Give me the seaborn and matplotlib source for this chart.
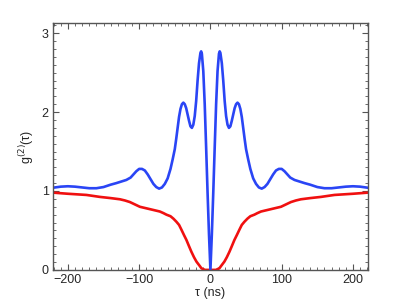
"""Second-order correlation g2(tau) curves, blue and red traces."""

import matplotlib

matplotlib.use("Agg")

import matplotlib.pyplot as plt
import numpy as np
import pandas as pd
import seaborn as sns
from matplotlib.ticker import MultipleLocator


# values for tau >= 0; both curves are symmetric in tau
BLUE_TAU = [0, 2, 4, 6, 8, 10, 12, 13, 14, 16, 18, 20, 22, 24, 26, 28, 30, 32,
            34, 36, 38, 40, 42, 44, 46, 48, 50, 53, 56, 60, 64, 68, 72, 76, 80,
            84, 88, 92, 96, 100, 104, 108, 112, 118, 125, 132, 140, 150, 160,
            170, 180, 190, 200, 210, 222]
BLUE_G2 = [0.0, 0.45, 0.98, 1.55, 2.10, 2.52, 2.74, 2.77, 2.75, 2.62, 2.40,
           2.14, 1.95, 1.84, 1.80, 1.82, 1.89, 1.97, 2.05, 2.10, 2.12, 2.10,
           2.04, 1.94, 1.80, 1.66, 1.53, 1.40, 1.28, 1.16, 1.09, 1.045, 1.03,
           1.05, 1.09, 1.15, 1.21, 1.26, 1.28, 1.28, 1.25, 1.21, 1.17, 1.14,
           1.12, 1.10, 1.08, 1.05, 1.035, 1.035, 1.045, 1.055, 1.06, 1.055,
           1.04]

RED_TAU = [0, 4, 8, 10, 12.6, 15, 19.6, 23, 26.7, 30, 33.7, 37, 40.7, 44,
           47.7, 52, 56, 61.7, 66, 71, 78, 85, 92, 99, 106, 113, 120, 127,
           140, 155, 174, 200, 222]
RED_G2 = [0.0, 0.0, 0.0, 0.01, 0.02, 0.05, 0.105, 0.16, 0.23, 0.30, 0.38,
          0.44, 0.51, 0.57, 0.61, 0.65, 0.68, 0.70, 0.72, 0.74, 0.755, 0.77,
          0.785, 0.80, 0.83, 0.86, 0.88, 0.895, 0.91, 0.925, 0.95, 0.965,
          0.98]

X_TICKS = [-200, -100, 0, 100, 200]
Y_TICKS = [0, 1, 2, 3]


def mirrored(tau, g2, name):
    tau = np.asarray(tau, dtype=float)
    g2 = np.asarray(g2, dtype=float)
    full_tau = np.concatenate([-tau[:0:-1], tau])
    full_g2 = np.concatenate([g2[:0:-1], g2])
    return pd.DataFrame({"tau": full_tau, "g2": full_g2, "trace": name})


data = pd.concat([mirrored(BLUE_TAU, BLUE_G2, "blue"),
                  mirrored(RED_TAU, RED_G2, "red")], ignore_index=True)

sns.set_style("ticks")
plt.rcParams["font.family"] = ["Liberation Sans", "DejaVu Sans"]
plt.rcParams["font.size"] = 9

fig = plt.figure(figsize=(4.07, 3.06), dpi=100)
ax = fig.add_axes([0.130, 0.118, 0.774, 0.807])

sns.lineplot(data=data, x="tau", y="g2", hue="trace",
             palette={"blue": "#2a45f5", "red": "#f01010"},
             hue_order=["red", "blue"], estimator=None, sort=False,
             linewidth=1.9, legend=False, ax=ax)

ax.set_xlim(-221, 221)
ax.set_ylim(0, 3.13)
ax.set_xticks(X_TICKS)
ax.set_xticklabels([str(t).replace("-", "\u2212") for t in X_TICKS])
ax.set_yticks(Y_TICKS)
ax.xaxis.set_minor_locator(MultipleLocator(10))
ax.yaxis.set_minor_locator(MultipleLocator(0.1))

frame = "#555555"
for spine in ax.spines.values():
    spine.set_visible(True)
    spine.set_color(frame)
    spine.set_linewidth(1.0)
ax.tick_params(which="both", direction="in", top=True, right=True,
               color=frame, labelsize=9, pad=3)
ax.tick_params(which="major", length=4, width=0.8)
ax.tick_params(which="minor", length=2, width=0.6)

ax.set_xlabel("\u03c4 (ns)", fontsize=9, labelpad=1)
ax.set_ylabel("g$^{(2)}$(\u03c4)", fontsize=9, labelpad=4)

fig.savefig("out.png", dpi=100)
plt.close(fig)
